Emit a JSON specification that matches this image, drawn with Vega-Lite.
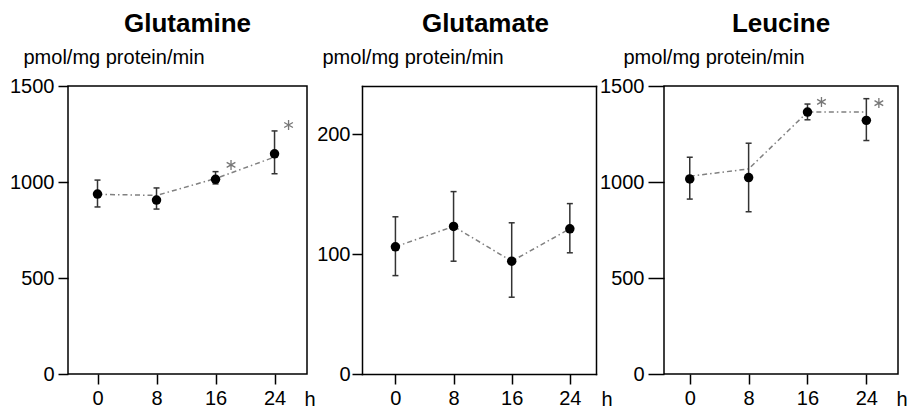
{
  "$schema": "https://vega.github.io/schema/vega-lite/v6.json",
  "padding": {"left": 8, "top": 10, "right": 2, "bottom": 0},
  "background": "white",
  "bounds": "flush",
  "spacing": 55,
  "config": {
    "font": "Liberation Sans",
    "view": {"stroke": "#000", "strokeWidth": 1.5},
    "title": {"fontSize": 26, "fontWeight": "bold", "font": "Liberation Sans", "color": "#000", "offset": 10, "frame": "group", "anchor": "middle"},
    "axis": {"grid": false, "domain": false, "domainColor": "#000", "domainWidth": 1.5, "domainCap": "square", "labelFont": "Liberation Sans", "labelFontSize": 20, "labelColor": "#000", "tickColor": "#000", "tickWidth": 1.5, "titleFont": "Liberation Sans", "titleFontSize": 20, "titleFontWeight": "normal", "titleColor": "#000", "titleAngle": 0, "titleAlign": "left", "titleBaseline": "alphabetic", "labelFlush": false, "labelOverlap": false},
    "axisX": {"tickSize": 10, "labelPadding": 4, "titleY": 31},
    "axisY": {"tickSize": 10, "labelPadding": 2, "titleY": -23}
  },
  "datasets": {
    "amino": [
      {"panel": "Glutamine", "h": 0, "mean": 937, "lo": 870, "hi": 1010, "fit": 936},
      {"panel": "Glutamine", "h": 8, "mean": 906, "lo": 859, "hi": 969, "fit": 930},
      {"panel": "Glutamine", "h": 16, "mean": 1014, "lo": 990, "hi": 1054, "fit": 1018},
      {"panel": "Glutamine", "h": 24, "mean": 1147, "lo": 1043, "hi": 1266, "fit": 1130},
      {"panel": "Glutamate", "h": 0, "mean": 106, "lo": 82, "hi": 131, "fit": 106},
      {"panel": "Glutamate", "h": 8, "mean": 123, "lo": 94, "hi": 152, "fit": 123},
      {"panel": "Glutamate", "h": 16, "mean": 94, "lo": 64, "hi": 126, "fit": 94},
      {"panel": "Glutamate", "h": 24, "mean": 121, "lo": 101, "hi": 142, "fit": 121},
      {"panel": "Leucine", "h": 0, "mean": 1016, "lo": 911, "hi": 1129, "fit": 1030},
      {"panel": "Leucine", "h": 8, "mean": 1023, "lo": 845, "hi": 1202, "fit": 1068},
      {"panel": "Leucine", "h": 16, "mean": 1364, "lo": 1324, "hi": 1406, "fit": 1364},
      {"panel": "Leucine", "h": 24, "mean": 1321, "lo": 1216, "hi": 1434, "fit": 1364}
    ],
    "stars": [
      {"panel": "Glutamine", "h": 18.1, "value": 1089},
      {"panel": "Glutamine", "h": 25.9, "value": 1297},
      {"panel": "Leucine", "h": 17.9, "value": 1417},
      {"panel": "Leucine", "h": 25.7, "value": 1411}
    ]
  },
  "hconcat": [
    {
      "width": 239, "height": 288,
      "title": {"text": "Glutamine"},
      "layer": [
        {"data": {"name": "amino"}, "transform": [{"filter": "datum.panel === 'Glutamine'"}],
         "mark": {"type": "line", "color": "#808080", "strokeWidth": 1.5, "strokeDash": [5, 3, 1.5, 3]},
         "encoding": {
           "x": {"field": "h", "type": "quantitative", "scale": {"domain": [-4, 28.4], "nice": false, "zero": false}, "axis": {"values": [0, 8, 16, 24], "format": "d", "title": "h", "titleX": 236}},
           "y": {"field": "fit", "type": "quantitative", "scale": {"domain": [0, 1500], "nice": false}, "axis": {"values": [0, 500, 1000, 1500], "format": "d", "title": "pmol/mg protein/min", "titleX": -45, "tickSize": 10, "labelPadding": 4}}
         }},
        {"data": {"name": "amino"}, "transform": [{"filter": "datum.panel === 'Glutamine'"}],
         "mark": {"type": "rule", "color": "#333", "strokeWidth": 1.5},
         "encoding": {
           "x": {"field": "h", "type": "quantitative", "scale": {"domain": [-4, 28.4], "nice": false, "zero": false}},
           "y": {"field": "lo", "type": "quantitative", "scale": {"domain": [0, 1500], "nice": false}},
           "y2": {"field": "hi"}
         }},
        {"data": {"name": "amino"}, "transform": [{"filter": "datum.panel === 'Glutamine'"}],
         "mark": {"type": "tick", "orient": "horizontal", "size": 6, "thickness": 1.5, "color": "#333", "opacity": 1},
         "encoding": {
           "x": {"field": "h", "type": "quantitative", "scale": {"domain": [-4, 28.4], "nice": false, "zero": false}},
           "y": {"field": "lo", "type": "quantitative", "scale": {"domain": [0, 1500], "nice": false}}
         }},
        {"data": {"name": "amino"}, "transform": [{"filter": "datum.panel === 'Glutamine'"}],
         "mark": {"type": "tick", "orient": "horizontal", "size": 6, "thickness": 1.5, "color": "#333", "opacity": 1},
         "encoding": {
           "x": {"field": "h", "type": "quantitative", "scale": {"domain": [-4, 28.4], "nice": false, "zero": false}},
           "y": {"field": "hi", "type": "quantitative", "scale": {"domain": [0, 1500], "nice": false}}
         }},
        {"data": {"name": "amino"}, "transform": [{"filter": "datum.panel === 'Glutamine'"}],
         "mark": {"type": "circle", "size": 90, "color": "#000", "opacity": 1},
         "encoding": {
           "x": {"field": "h", "type": "quantitative", "scale": {"domain": [-4, 28.4], "nice": false, "zero": false}},
           "y": {"field": "mean", "type": "quantitative", "scale": {"domain": [0, 1500], "nice": false}}
         }},
        {"data": {"name": "stars"}, "transform": [{"filter": "datum.panel === 'Glutamine'"}],
         "mark": {"type": "point", "shape": "M0,-1L0,1M-0.87,-0.5L0.87,0.5M-0.87,0.5L0.87,-0.5", "filled": false, "size": 100, "stroke": "#777", "strokeWidth": 1.3, "opacity": 1},
         "encoding": {
           "x": {"field": "h", "type": "quantitative", "scale": {"domain": [-4, 28.4], "nice": false, "zero": false}},
           "y": {"field": "value", "type": "quantitative", "scale": {"domain": [0, 1500], "nice": false}}
         }}
      ]
    },
    {
      "width": 247, "height": 288,
      "view": {"stroke": null},
      "title": {"text": "Glutamate"},
      "resolve": {"axis": {"x": "independent", "y": "independent"}},
      "layer": [
        {"data": {"name": "amino"}, "transform": [{"filter": "datum.panel === 'Glutamate'"}],
         "mark": {"type": "line", "color": "#808080", "strokeWidth": 1.5, "strokeDash": [5, 3, 1.5, 3]},
         "encoding": {
           "x": {"field": "h", "type": "quantitative", "scale": {"domain": [-4.6, 27.6], "range": [0, 234], "nice": false, "zero": false}, "axis": {"values": [0, 8, 16, 24], "format": "d", "title": "h", "titleX": 239, "domain": true}},
           "y": {"field": "fit", "type": "quantitative", "scale": {"domain": [0, 240], "nice": false}, "axis": {"values": [0, 100, 200], "format": "d", "title": "pmol/mg protein/min", "titleX": -40, "tickSize": 10, "labelPadding": 2, "domain": true}}
         }},
        {"data": {"name": "amino"}, "transform": [{"filter": "datum.panel === 'Glutamate'"}],
         "mark": {"type": "rule", "color": "#333", "strokeWidth": 1.5},
         "encoding": {
           "x": {"field": "h", "type": "quantitative", "scale": {"domain": [-4.6, 27.6], "range": [0, 234], "nice": false, "zero": false}, "axis": {"orient": "top", "domain": true, "ticks": false, "labels": false, "title": null}},
           "y": {"field": "lo", "type": "quantitative", "scale": {"domain": [0, 240], "nice": false}, "axis": {"orient": "right", "offset": -13, "domain": true, "ticks": false, "labels": false, "title": null}},
           "y2": {"field": "hi"}
         }},
        {"data": {"name": "amino"}, "transform": [{"filter": "datum.panel === 'Glutamate'"}],
         "mark": {"type": "tick", "orient": "horizontal", "size": 6, "thickness": 1.5, "color": "#333", "opacity": 1},
         "encoding": {
           "x": {"field": "h", "type": "quantitative", "scale": {"domain": [-4.6, 27.6], "range": [0, 234], "nice": false, "zero": false}, "axis": null},
           "y": {"field": "lo", "type": "quantitative", "scale": {"domain": [0, 240], "nice": false}, "axis": null}
         }},
        {"data": {"name": "amino"}, "transform": [{"filter": "datum.panel === 'Glutamate'"}],
         "mark": {"type": "tick", "orient": "horizontal", "size": 6, "thickness": 1.5, "color": "#333", "opacity": 1},
         "encoding": {
           "x": {"field": "h", "type": "quantitative", "scale": {"domain": [-4.6, 27.6], "range": [0, 234], "nice": false, "zero": false}, "axis": null},
           "y": {"field": "hi", "type": "quantitative", "scale": {"domain": [0, 240], "nice": false}, "axis": null}
         }},
        {"data": {"name": "amino"}, "transform": [{"filter": "datum.panel === 'Glutamate'"}],
         "mark": {"type": "circle", "size": 90, "color": "#000", "opacity": 1},
         "encoding": {
           "x": {"field": "h", "type": "quantitative", "scale": {"domain": [-4.6, 27.6], "range": [0, 234], "nice": false, "zero": false}, "axis": null},
           "y": {"field": "mean", "type": "quantitative", "scale": {"domain": [0, 240], "nice": false}, "axis": null}
         }}
      ]
    },
    {
      "width": 234, "height": 288,
      "title": {"text": "Leucine"},
      "layer": [
        {"data": {"name": "amino"}, "transform": [{"filter": "datum.panel === 'Leucine'"}],
         "mark": {"type": "line", "color": "#808080", "strokeWidth": 1.5, "strokeDash": [5, 3, 1.5, 3]},
         "encoding": {
           "x": {"field": "h", "type": "quantitative", "scale": {"domain": [-3.5, 28.3], "nice": false, "zero": false}, "axis": {"values": [0, 8, 16, 24], "format": "d", "title": "h", "titleX": 232}},
           "y": {"field": "fit", "type": "quantitative", "scale": {"domain": [0, 1500], "nice": false}, "axis": {"values": [0, 500, 1000, 1500], "format": "d", "title": "pmol/mg protein/min", "titleX": -41, "tickSize": 16, "labelPadding": 4}}
         }},
        {"data": {"name": "amino"}, "transform": [{"filter": "datum.panel === 'Leucine'"}],
         "mark": {"type": "rule", "color": "#333", "strokeWidth": 1.5},
         "encoding": {
           "x": {"field": "h", "type": "quantitative", "scale": {"domain": [-3.5, 28.3], "nice": false, "zero": false}},
           "y": {"field": "lo", "type": "quantitative", "scale": {"domain": [0, 1500], "nice": false}},
           "y2": {"field": "hi"}
         }},
        {"data": {"name": "amino"}, "transform": [{"filter": "datum.panel === 'Leucine'"}],
         "mark": {"type": "tick", "orient": "horizontal", "size": 6, "thickness": 1.5, "color": "#333", "opacity": 1},
         "encoding": {
           "x": {"field": "h", "type": "quantitative", "scale": {"domain": [-3.5, 28.3], "nice": false, "zero": false}},
           "y": {"field": "lo", "type": "quantitative", "scale": {"domain": [0, 1500], "nice": false}}
         }},
        {"data": {"name": "amino"}, "transform": [{"filter": "datum.panel === 'Leucine'"}],
         "mark": {"type": "tick", "orient": "horizontal", "size": 6, "thickness": 1.5, "color": "#333", "opacity": 1},
         "encoding": {
           "x": {"field": "h", "type": "quantitative", "scale": {"domain": [-3.5, 28.3], "nice": false, "zero": false}},
           "y": {"field": "hi", "type": "quantitative", "scale": {"domain": [0, 1500], "nice": false}}
         }},
        {"data": {"name": "amino"}, "transform": [{"filter": "datum.panel === 'Leucine'"}],
         "mark": {"type": "circle", "size": 90, "color": "#000", "opacity": 1},
         "encoding": {
           "x": {"field": "h", "type": "quantitative", "scale": {"domain": [-3.5, 28.3], "nice": false, "zero": false}},
           "y": {"field": "mean", "type": "quantitative", "scale": {"domain": [0, 1500], "nice": false}}
         }},
        {"data": {"name": "stars"}, "transform": [{"filter": "datum.panel === 'Leucine'"}],
         "mark": {"type": "point", "shape": "M0,-1L0,1M-0.87,-0.5L0.87,0.5M-0.87,0.5L0.87,-0.5", "filled": false, "size": 100, "stroke": "#777", "strokeWidth": 1.3, "opacity": 1},
         "encoding": {
           "x": {"field": "h", "type": "quantitative", "scale": {"domain": [-3.5, 28.3], "nice": false, "zero": false}},
           "y": {"field": "value", "type": "quantitative", "scale": {"domain": [0, 1500], "nice": false}}
         }}
      ]
    }
  ]
}
